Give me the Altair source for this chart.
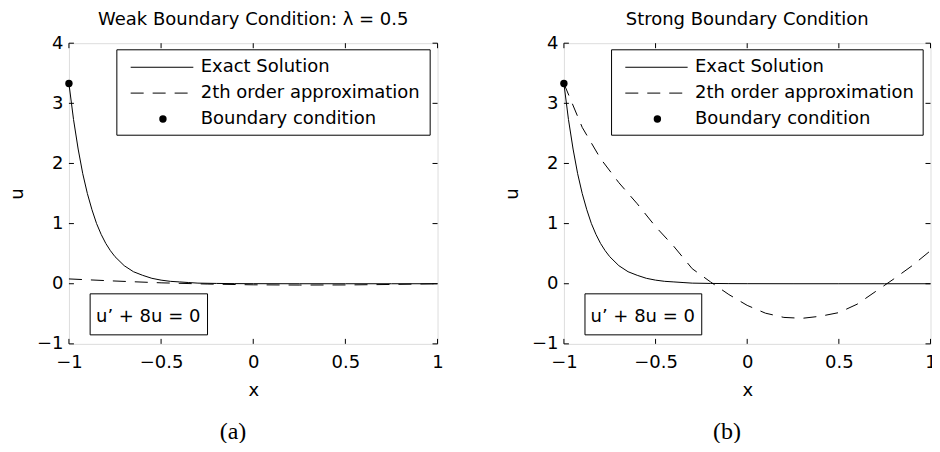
import altair as alt
import pandas as pd

FONT = "DejaVu Sans"
SERIF = "Liberation Serif"

# ---- data ----
x_exact = [-1.0, -0.975, -0.95, -0.925, -0.9, -0.875, -0.85, -0.825, -0.8, -0.775, -0.75,
           -0.7, -0.65, -0.6, -0.55, -0.5, -0.45, -0.4, -0.35, -0.3, -0.2, -0.1, 0.0,
           0.25, 0.5, 0.75, 1.0]
u_exact = [3.33, 2.73, 2.24, 1.83, 1.50, 1.23, 1.00, 0.82, 0.67, 0.55, 0.45,
           0.30, 0.20, 0.14, 0.09, 0.06, 0.04, 0.03, 0.02, 0.01, 0.005, 0.002, 0.001,
           0.0, 0.0, 0.0, 0.0]

x_weak = [-1.0, -0.75, -0.5, -0.25, 0.0, 0.25, 0.5, 0.75, 1.0]
u_weak = [0.08, 0.045, 0.015, -0.005, -0.018, -0.022, -0.02, -0.012, 0.0]

x_strong = [-1.0, -0.9, -0.8, -0.7, -0.6, -0.5, -0.4, -0.3, -0.2, -0.1, 0.0,
            0.1, 0.2, 0.3, 0.4, 0.5, 0.6, 0.7, 0.8, 0.9, 1.0]
u_strong = [3.33, 2.60, 2.08, 1.68, 1.33, 0.95, 0.62, 0.25, 0.03, -0.18, -0.36,
            -0.49, -0.56, -0.575, -0.54, -0.48, -0.34, -0.13, 0.08, 0.30, 0.55]

bc_x = [-1.0]
bc_u = [3.33]

legend_labels = ["Exact Solution", "2th order approximation", "Boundary condition"]
titles = ["Weak Boundary Condition: \u03bb = 0.5", "Strong Boundary Condition"]
captions = ["(a)", "(b)"]
equation = "u\u2019 + 8u = 0"
x_ticks = [-1, -0.5, 0, 0.5, 1]
y_ticks = [-1, 0, 1, 2, 3, 4]

# ---- annotation placement (data coordinates) ----
LEG_BOX = dict(x=[-0.74], x2=[0.96], u=[3.89], u2=[2.47])
LEG_ROWS = [3.60, 3.17, 2.74]
LEG_LINE = (-0.665, -0.325)
LEG_DOT_X = -0.49
LEG_TEXT_X = -0.285
EQ_BOX = dict(x=[-0.885], x2=[-0.248], u=[-0.168], u2=[-0.85])
EQ_TEXT = dict(x=[-0.57], u=[-0.55])
CAPTION_POS = dict(x=-0.11, u=-2.47)
DASH = [13, 9]


def panel(title, xs, us, width, height, title_offset, caption):
    X = alt.Scale(domain=[-1, 1], nice=False, zero=False)
    Y = alt.Scale(domain=[-1, 4], nice=False, zero=False)
    xaxis = alt.Axis(values=x_ticks, title="x", format="~g", labelFont=FONT, labelFontSize=18,
                     titleFont=FONT, titleFontSize=18, titleFontWeight="normal",
                     domain=False, ticks=False, grid=False, labelPadding=10,
                     titlePadding=10, labelFlush=False, labelOverlap=False,
                     labelColor="black", titleColor="black")
    yaxis = alt.Axis(values=y_ticks, title="u", format="~g", labelFont=FONT, labelFontSize=18,
                     titleFont=FONT, titleFontSize=18, titleFontWeight="normal",
                     domain=False, ticks=False, grid=False, labelPadding=6,
                     titlePadding=9.5, labelFlush=False, labelOverlap=False,
                     labelColor="black", titleColor="black")
    xe = alt.X("x:Q", scale=X, axis=xaxis)
    ye = alt.Y("u:Q", scale=Y, axis=yaxis)

    exact = alt.Chart(pd.DataFrame({"x": x_exact, "u": u_exact})).mark_line(
        color="black", strokeWidth=1).encode(x=xe, y=ye)
    approx = alt.Chart(pd.DataFrame({"x": xs, "u": us})).mark_line(
        color="black", strokeWidth=1, strokeDash=DASH).encode(x=xe, y=ye)
    bc = alt.Chart(pd.DataFrame({"x": bc_x, "u": bc_u})).mark_circle(
        color="black", size=55, opacity=1).encode(x=xe, y=ye)

    xt = pd.DataFrame({"x": x_ticks})
    yt = pd.DataFrame({"u": y_ticks})
    tick_style = dict(color="black", strokeWidth=1)
    tb = alt.Chart(xt).mark_rule(**tick_style).encode(x=xe, y=alt.value(height), y2=alt.value(height - 5))
    tt = alt.Chart(xt).mark_rule(**tick_style).encode(x=xe, y=alt.value(0), y2=alt.value(5))
    tl = alt.Chart(yt).mark_rule(**tick_style).encode(y=ye, x=alt.value(0), x2=alt.value(5))
    tr = alt.Chart(yt).mark_rule(**tick_style).encode(y=ye, x=alt.value(width), x2=alt.value(width - 5))

    leg_box = alt.Chart(pd.DataFrame(LEG_BOX)).mark_rect(
        fill="white", stroke="black", strokeWidth=1).encode(
        x=xe, x2="x2:Q", y=ye, y2="u2:Q")
    leg_solid = alt.Chart(pd.DataFrame({"x": [LEG_LINE[0]], "x2": [LEG_LINE[1]], "u": [LEG_ROWS[0]]})).mark_rule(
        color="black", strokeWidth=1).encode(x=xe, x2="x2:Q", y=ye)
    leg_dash = alt.Chart(pd.DataFrame({"x": [LEG_LINE[0]], "x2": [LEG_LINE[1]], "u": [LEG_ROWS[1]]})).mark_rule(
        color="black", strokeWidth=1, strokeDash=DASH).encode(x=xe, x2="x2:Q", y=ye)
    leg_dot = alt.Chart(pd.DataFrame({"x": [LEG_DOT_X], "u": [LEG_ROWS[2]]})).mark_circle(
        color="black", size=55, opacity=1).encode(x=xe, y=ye)
    leg_text = alt.Chart(pd.DataFrame({"x": [LEG_TEXT_X] * 3, "u": LEG_ROWS, "t": legend_labels})).mark_text(
        align="left", baseline="middle", font=FONT, fontSize=18, color="black").encode(
        x=xe, y=ye, text="t:N")

    eq_box = alt.Chart(pd.DataFrame(EQ_BOX)).mark_rect(
        fill="white", stroke="black", strokeWidth=1).encode(x=xe, x2="x2:Q", y=ye, y2="u2:Q")
    eq_text = alt.Chart(pd.DataFrame({**EQ_TEXT, "t": [equation]})).mark_text(
        align="center", baseline="middle", font=FONT, fontSize=18, color="black").encode(
        x=xe, y=ye, text="t:N")

    cap = alt.Chart(pd.DataFrame({"x": [CAPTION_POS["x"]], "u": [CAPTION_POS["u"]], "t": [caption]})).mark_text(
        align="center", baseline="middle", font=SERIF, fontSize=24, color="black").encode(
        x=xe, y=ye, text="t:N")

    return alt.layer(exact, approx, tb, tt, tl, tr, bc, leg_box, leg_solid, leg_dash,
                     leg_dot, leg_text, eq_box, eq_text, cap).properties(
        width=width, height=height,
        title=alt.TitleParams(title, font=FONT, fontSize=18, fontWeight="normal",
                              offset=title_offset, anchor="middle", color="black"))


left = panel(titles[0], x_weak, u_weak, 369, 301, 5, captions[0])
right = panel(titles[1], x_strong, u_strong, 367, 301, 5, captions[1])

chart = alt.hconcat(left, right, spacing=58.5).properties(
    padding={"left": 0, "top": 2, "right": -5, "bottom": -2}
).configure_view(stroke="black", strokeWidth=1.2).configure(background="white")

chart.save("out.html", embed_options={"renderer": "svg", "actions": False})
